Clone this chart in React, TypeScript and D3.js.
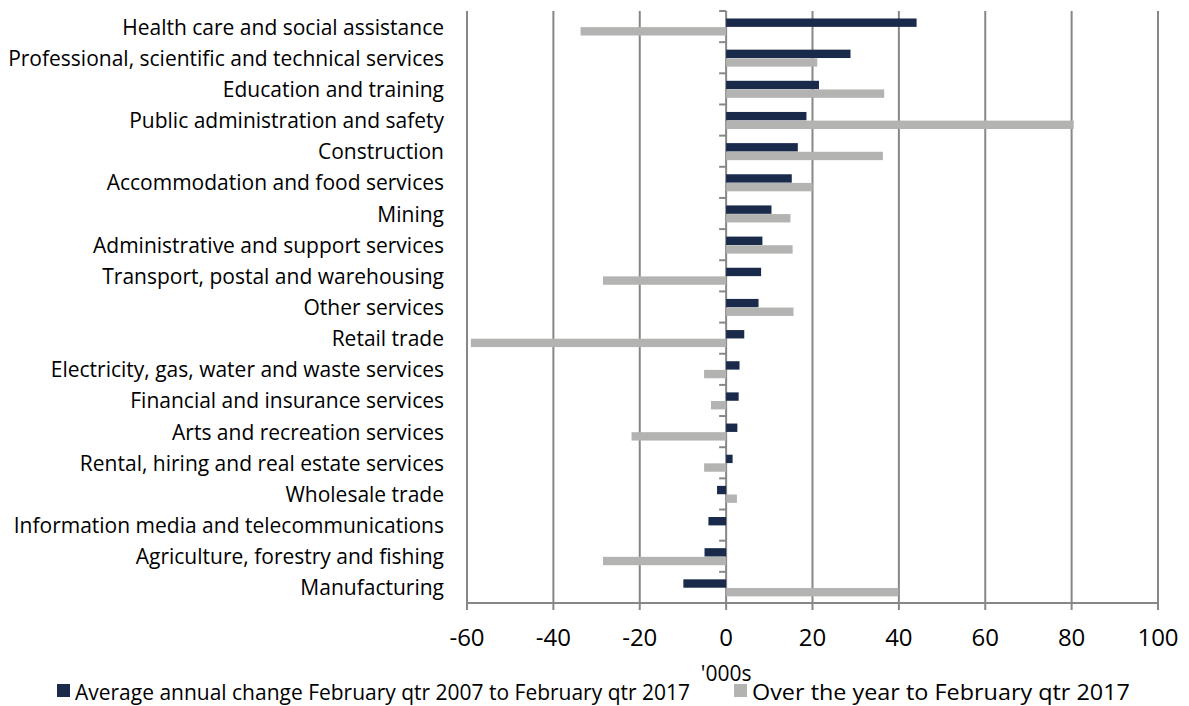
import React from "react";
import * as d3 from "d3";

const industries = [
  "Health care and social assistance",
  "Professional, scientific and technical services",
  "Education and training",
  "Public administration and safety",
  "Construction",
  "Accommodation and food services",
  "Mining",
  "Administrative and support services",
  "Transport, postal and warehousing",
  "Other services",
  "Retail trade",
  "Electricity, gas, water and waste services",
  "Financial and insurance services",
  "Arts and recreation services",
  "Rental, hiring and real estate services",
  "Wholesale trade",
  "Information media and telecommunications",
  "Agriculture, forestry and fishing",
  "Manufacturing",
];

// '000s, average annual change Feb qtr 2007 to Feb qtr 2017
const avgAnnualChange = [
  44.1, 28.8, 21.5, 18.6, 16.6, 15.2, 10.5, 8.4, 8.1, 7.5, 4.2, 3.1, 2.9, 2.6,
  1.5, -2.1, -4.1, -5.0, -9.9,
];

// '000s, change over the year to Feb qtr 2017
const overTheYear = [
  -33.7, 21.1, 36.6, 80.5, 36.3, 20.0, 14.9, 15.4, -28.5, 15.6, -59.1, -5.1,
  -3.5, -21.9, -5.1, 2.5, 0, -28.5, 39.9,
];

const xTicks = [-60, -40, -20, 0, 20, 40, 60, 80, 100];

const seriesNames = [
  "Average annual change February qtr 2007 to February qtr 2017",
  "Over the year to February qtr 2017",
];
const seriesColors = ["#1a2a4a", "#b3b3b1"];

const W = 1189;
const H = 706;
const plot = { left: 467, right: 1158, top: 11, bottom: 603 };
const FONT = "'Open Sans', 'Noto Sans', sans-serif";
const GRID = "#878787";

// legend layout: swatch x, text x, text width
const legendLayout = [
  { sx: 57, tx: 75, tw: 615 },
  { sx: 734, tx: 752, tw: 378 },
];

export default function App() {
  const x = d3.scaleLinear().domain([-60, 100]).range([plot.left, plot.right]);
  const y = d3
    .scaleBand<string>()
    .domain(industries)
    .range([plot.top, plot.bottom])
    .padding(0);
  const bw = y.bandwidth();
  const inner = d3
    .scaleBand<number>()
    .domain([0, 1])
    .range([bw * 0.232, bw * 0.795])
    .padding(0.03);

  const series = [avgAnnualChange, overTheYear];
  const boundaries = d3.range(industries.length + 1).map(
    (i) => plot.top + i * bw
  );

  return (
    <svg
      width={W}
      height={H}
      style={{ position: "absolute", left: 0, top: 0, background: "#fff" }}
      fontFamily={FONT}
    >
      {/* vertical gridlines */}
      {xTicks.map((t) => (
        <line
          key={"g" + t}
          x1={x(t)}
          x2={x(t)}
          y1={plot.top}
          y2={plot.bottom + 7}
          stroke={GRID}
          strokeWidth={2}
        />
      ))}
      {/* bottom axis */}
      <line
        x1={plot.left - 1}
        x2={plot.right + 1}
        y1={plot.bottom}
        y2={plot.bottom}
        stroke={GRID}
        strokeWidth={2}
      />
      {/* category ticks on the zero axis */}
      {boundaries.map((b, i) => (
        <line
          key={"t" + i}
          x1={x(0) - 7}
          x2={x(0)}
          y1={b}
          y2={b}
          stroke={GRID}
          strokeWidth={2}
        />
      ))}

      {/* bars */}
      {industries.map((name, i) =>
        series.map((vals, s) => {
          const v = vals[i];
          const x0 = x(Math.min(0, v));
          const x1 = x(Math.max(0, v));
          return (
            <rect
              key={name + s}
              x={x0}
              y={(y(name) as number) + (inner(s) as number)}
              width={Math.max(0, x1 - x0)}
              height={inner.bandwidth()}
              fill={seriesColors[s]}
            />
          );
        })
      )}

      {/* category labels */}
      {industries.map((name) => (
        <text
          key={"l" + name}
          x={444}
          y={(y(name) as number) + bw / 2 + 8}
          textAnchor="end"
          fontSize={21}
          fill="#000"
        >
          {name}
        </text>
      ))}

      {/* x tick labels */}
      {xTicks.map((t) => (
        <text
          key={"x" + t}
          x={x(t)}
          y={646}
          textAnchor="middle"
          fontSize={24}
          fill="#000"
        >
          {t}
        </text>
      ))}
      <text x={x(0)} y={681} textAnchor="middle" fontSize={21} fill="#000">
        '000s
      </text>

      {/* legend */}
      {legendLayout.map((p, i) => (
        <g key={"lg" + i}>
          <rect x={p.sx} y={684} width={13} height={13} fill={seriesColors[i]} />
          <text
            x={p.tx}
            y={700}
            fontSize={21}
            fill="#000"
            textLength={p.tw}
            lengthAdjust="spacingAndGlyphs"
          >
            {seriesNames[i]}
          </text>
        </g>
      ))}
    </svg>
  );
}
